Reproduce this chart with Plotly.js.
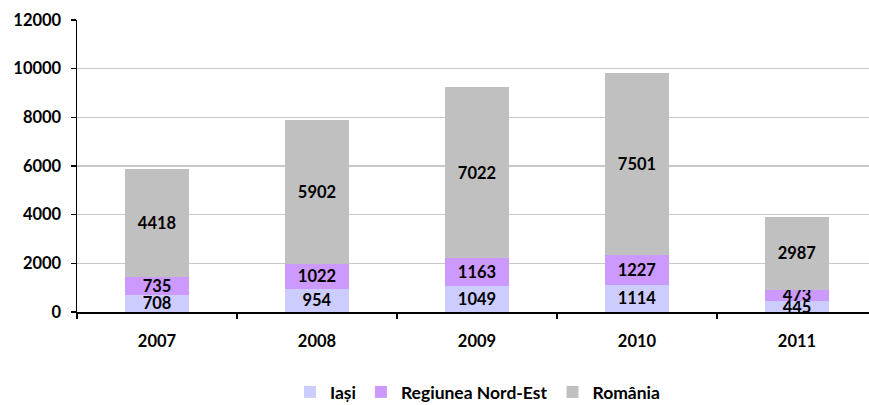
<!DOCTYPE html>
<html>
<head>
<meta charset="utf-8">
<script src="https://cdn.plot.ly/plotly-3.0.1.min.js"></script>
<style>html,body{margin:0;padding:0;background:#fff;}#chart{width:869px;height:405px;}</style>
</head>
<body>
<div id="chart"></div>
<script>
const years = ['2007', '2008', '2009', '2010', '2011'];
const iasi = [708, 954, 1049, 1114, 445];
const nordEst = [735, 1022, 1163, 1227, 473];
const romania = [4418, 5902, 7022, 7501, 2987];
const seriesNames = ['Iași', 'Regiunea Nord-Est', 'România'];
const seriesColors = ['#CCCCFF', '#CC99FF', '#C0C0C0'];
const yTicks = [0, 2000, 4000, 6000, 8000, 10000, 12000];

const FONT = 'Lato, "Open Sans", sans-serif';
const allValues = [iasi, nordEst, romania];
const traces = allValues.map((vals, i) => ({
  type: 'bar',
  name: seriesNames[i],
  x: years,
  y: vals,
  text: vals.map(String),
  textposition: 'inside',
  insidetextanchor: 'middle',
  constraintext: 'none',
  textangle: 0,
  textfont: {family: FONT, size: 16.5, color: '#000', weight: 'bold'},
  marker: {color: seriesColors[i], line: {width: 0}},
  hoverinfo: 'skip'
}));

const layout = {
  width: 869, height: 405,
  barmode: 'stack',
  bargap: 0.595,
  margin: {l: 77, r: 0, t: 20, b: 93},
  paper_bgcolor: '#fff', plot_bgcolor: '#fff',
  font: {family: FONT, size: 16.5, color: '#000', weight: 'bold'},
  showlegend: true,
  legend: {
    orientation: 'h',
    xref: 'container', yref: 'container',
    x: 0.55, xanchor: 'center', y: 0.032, yanchor: 'middle',
    font: {family: FONT, size: 17.5, color: '#000', weight: 'bold'},
    itemwidth: 30, tracegroupgap: 0, traceorder: 'normal'
  },
  xaxis: {
    type: 'category',
    range: [-0.5, 4.45],
    tickson: 'boundaries',
    ticks: 'outside', ticklen: 5, tickwidth: 1.5, tickcolor: '#000',
    showline: true, linecolor: '#000', linewidth: 1.5,
    showgrid: false,
    ticklabelstandoff: 14,
    tickfont: {family: FONT, size: 16.5, color: '#000', weight: 'bold'},
    fixedrange: true
  },
  yaxis: {
    range: [0, 12000],
    tickvals: yTicks,
    ticktext: yTicks.map(String),
    ticks: 'outside', ticklen: 5, tickwidth: 1.5, tickcolor: '#000',
    showline: true, linecolor: '#000', linewidth: 1.5,
    showgrid: true, gridcolor: '#C8C8C8', gridwidth: 1.5,
    zeroline: false,
    ticklabelstandoff: 6,
    tickfont: {family: FONT, size: 16.5, color: '#000', weight: 'bold'},
    fixedrange: true
  }
};

Plotly.newPlot('chart', traces, layout, {displayModeBar: false, staticPlot: true});
</script>
</body>
</html>
